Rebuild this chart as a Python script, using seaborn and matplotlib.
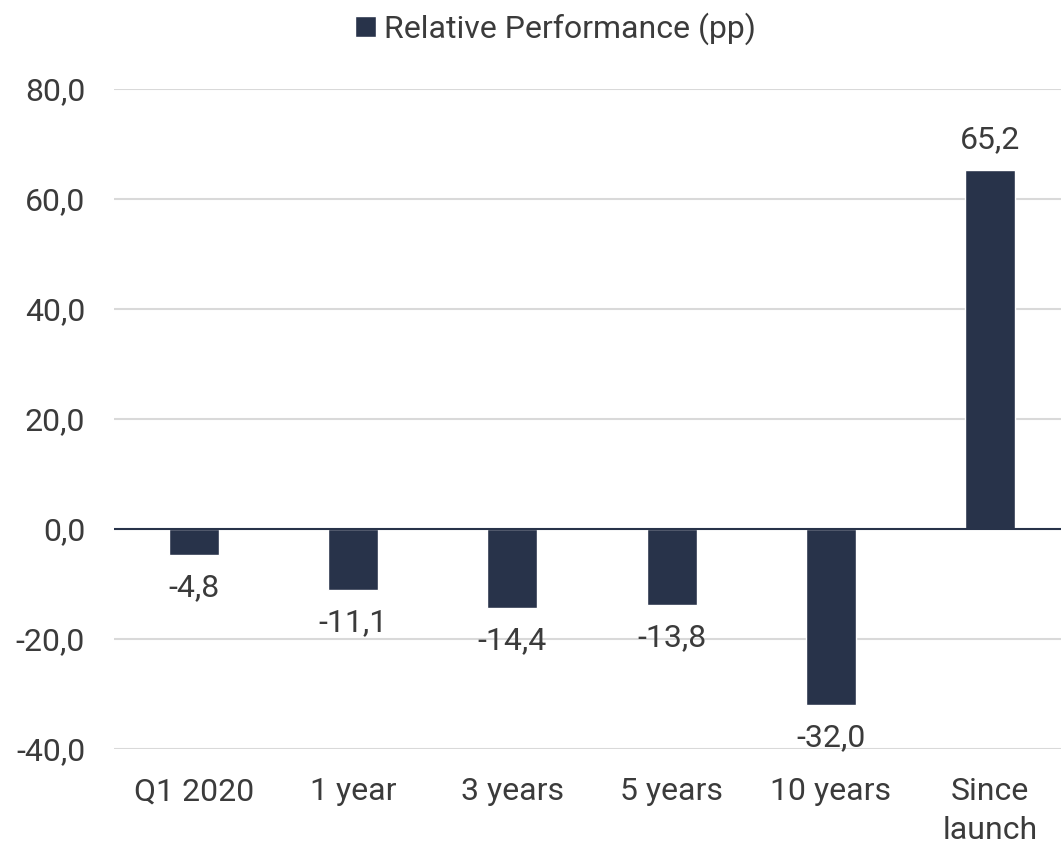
import pandas as pd
import seaborn as sns
import matplotlib.pyplot as plt

categories = ["Q1 2020", "1 year", "3 years", "5 years", "10 years", "Since\nlaunch"]
values = [-4.8, -11.1, -14.4, -13.8, -32.0, 65.2]
series_name = "Relative Performance (pp)"
yticks = [-40, -20, 0, 20, 40, 60, 80]

BAR_COLOR = "#28334a"
TEXT_COLOR = "#3b3b3b"
FS = 23


def fmt(v):
    return f"{v:.1f}".replace(".", ",")


sns.set_theme(style="white")
plt.rcParams["font.family"] = ["Roboto", "DejaVu Sans"]

df = pd.DataFrame({"Periodo": categories, "Valor": values, "Serie": series_name})

fig = plt.figure(figsize=(10.61, 8.43), dpi=100)
ax = fig.add_axes([0.1078, 0.1115, 0.9002, 0.7829])

sns.barplot(data=df, x="Periodo", y="Valor", hue="Serie", palette=[BAR_COLOR],
            width=0.314, saturation=1, ax=ax, legend=True, zorder=3)

ax.set_ylim(-40, 80)
ax.set_yticks(yticks)
ax.set_yticklabels([fmt(t) for t in yticks], fontsize=FS, color=TEXT_COLOR)
ax.set_xticks(range(len(categories)))
ax.set_xticklabels(categories, fontsize=FS, color=TEXT_COLOR, linespacing=1.42)
ax.tick_params(axis="x", length=0, pad=20.5)
ax.tick_params(axis="y", length=0, pad=21)
ax.set_xlabel("")
ax.set_ylabel("")
ax.set_xlim(-0.5, 5.5)

for t in yticks:
    if t != 0:
        ax.axhline(t, color="#d9d9d9", lw=1.5, zorder=1)
ax.axhline(0, color=BAR_COLOR, lw=1.5, zorder=4)

for s in ax.spines.values():
    s.set_visible(False)

for i, v in enumerate(values):
    if v >= 0:
        ax.text(i, v + 3.0, fmt(v), ha="center", va="bottom", fontsize=FS, color=TEXT_COLOR)
    else:
        ax.text(i, v - 3.3, fmt(v), ha="center", va="top", fontsize=FS, color=TEXT_COLOR)

ax.legend(loc="upper center", bbox_to_anchor=(0.462, 1.16), frameon=False, fontsize=FS,
          handlelength=0.65, handleheight=0.65, handletextpad=0.25, labelcolor=TEXT_COLOR)

fig.savefig("out.png", dpi=100)
